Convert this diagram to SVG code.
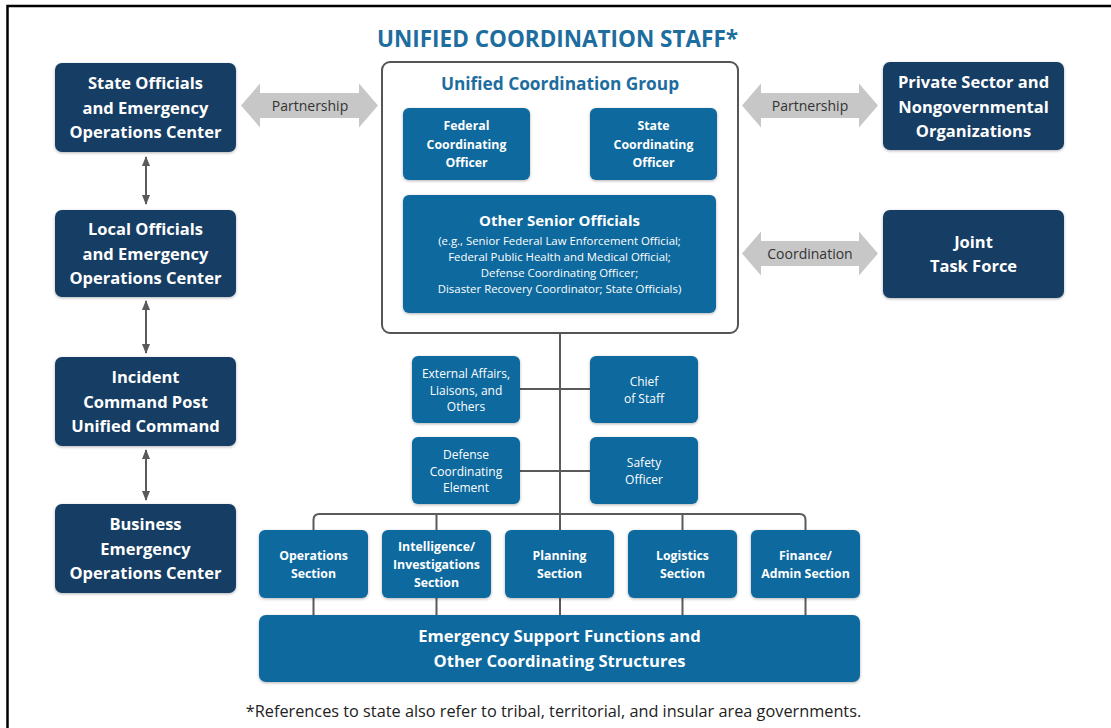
<svg xmlns="http://www.w3.org/2000/svg" width="1111" height="728" viewBox="0 0 1111 728">
  <defs>
    <filter id="soft" x="-10%" y="-10%" width="120%" height="130%">
      <feDropShadow dx="0" dy="1" stdDeviation="1.6" flood-color="#000" flood-opacity="0.3"/>
    </filter>
    <marker id="tip" viewBox="0 0 10 8" refX="9" refY="4" markerWidth="10" markerHeight="8" markerUnits="userSpaceOnUse" orient="auto-start-reverse">
      <path d="M0,0 L10,4 L0,8 Z" fill="#5a5a5a"/>
    </marker>
    <style>
      text { font-family: 'Open Sans', 'Liberation Sans', sans-serif; text-anchor: middle; }
      .navy { fill: #133c64; filter: url(#soft); }
      .blue { fill: #10699e; filter: url(#soft); }
      .navy-t { fill: #ffffff; font-weight: 700; font-size: 16.5px; }
      .blue-t { fill: #ffffff; font-weight: 700; font-size: 12.3px; }
      .staff-t { fill: #ffffff; font-weight: 400; font-size: 12px; }
      .sub-t { fill: #ffffff; font-weight: 400; font-size: 11.4px; }
      .line { fill: none; stroke: #5a5a5a; stroke-width: 2; }
      .gray-arrow { fill: #c7c7c7; }
      .arrow-t { fill: #333333; font-size: 14px; }
    </style>
  </defs>

  <rect width="1111" height="728" fill="#ffffff"/>
  <!-- page frame -->
  <rect x="7.5" y="6" width="1200" height="800" fill="none" stroke="#000" stroke-width="2.5"/>

  <text x="557.5" y="47" fill="#1d6d9e" font-weight="700" font-size="22.5px">UNIFIED COORDINATION STAFF*</text>

  <g id="connectors">
    <!-- vertical two-way arrows on the left column -->
    <line class="line" x1="146" y1="157" x2="146" y2="204" marker-start="url(#tip)" marker-end="url(#tip)"/>
    <line class="line" x1="146" y1="301" x2="146" y2="353" marker-start="url(#tip)" marker-end="url(#tip)"/>
    <line class="line" x1="146" y1="450" x2="146" y2="500" marker-start="url(#tip)" marker-end="url(#tip)"/>

    <!-- trunk from the coordination group -->
    <path class="line" d="M560 333 V615"/>
    <path class="line" d="M520 389 H590 M520 471 H590"/>
    <!-- section bus -->
    <path class="line" d="M313.5 530 V520 Q313.5 514 319.5 514 H799.5 Q805.5 514 805.5 520 V530 M436.5 514 V530 M682.5 514 V530"/>
    <!-- sections down to the support bar -->
    <path class="line" d="M313.5 598 V615 M436.5 598 V615 M682.5 598 V615 M805.5 598 V615"/>

    <!-- wide gray two-way arrows -->
    <g id="partnership-left">
      <polygon class="gray-arrow" points="241,105.5 260,83.5 260,93 359,93 359,83.5 378,105.5 359,127.5 359,118 260,118 260,127.5"/>
      <text class="arrow-t" x="310" y="110.5">Partnership</text>
    </g>
    <g id="partnership-right">
      <polygon class="gray-arrow" points="742,105.5 761,83.5 761,93 859,93 859,83.5 878,105.5 859,127.5 859,118 761,118 761,127.5"/>
      <text class="arrow-t" x="810" y="110.5">Partnership</text>
    </g>
    <g id="coordination">
      <polygon class="gray-arrow" points="742,253.5 761,231.5 761,241 859,241 859,231.5 878,253.5 859,275.5 859,266 761,266 761,275.5"/>
      <text class="arrow-t" x="810" y="258.5">Coordination</text>
    </g>
  </g>

  <!-- left column -->
  <g id="state-eoc">
    <rect class="navy" x="55" y="63" width="181" height="89" rx="7"/>
    <text class="navy-t" x="145.5" y="89">State Officials</text>
    <text class="navy-t" x="145.5" y="113.5">and Emergency</text>
    <text class="navy-t" x="145.5" y="138">Operations Center</text>
  </g>
  <g id="local-eoc">
    <rect class="navy" x="55" y="210" width="181" height="87" rx="7"/>
    <text class="navy-t" x="145.5" y="235">Local Officials</text>
    <text class="navy-t" x="145.5" y="259.5">and Emergency</text>
    <text class="navy-t" x="145.5" y="284">Operations Center</text>
  </g>
  <g id="icp">
    <rect class="navy" x="55" y="357" width="181" height="89" rx="7"/>
    <text class="navy-t" x="145.5" y="383">Incident</text>
    <text class="navy-t" x="145.5" y="407.5">Command Post</text>
    <text class="navy-t" x="145.5" y="432">Unified Command</text>
  </g>
  <g id="business-eoc">
    <rect class="navy" x="55" y="504" width="181" height="89" rx="7"/>
    <text class="navy-t" x="145.5" y="530">Business</text>
    <text class="navy-t" x="145.5" y="554.5">Emergency</text>
    <text class="navy-t" x="145.5" y="579">Operations Center</text>
  </g>

  <!-- right column -->
  <g id="private-sector">
    <rect class="navy" x="883" y="62" width="181" height="88" rx="7"/>
    <text class="navy-t" x="973.5" y="88">Private Sector and</text>
    <text class="navy-t" x="973.5" y="112.5">Nongovernmental</text>
    <text class="navy-t" x="973.5" y="137">Organizations</text>
  </g>
  <g id="jtf">
    <rect class="navy" x="883" y="210" width="181" height="88" rx="7"/>
    <text class="navy-t" x="973.5" y="247.5">Joint</text>
    <text class="navy-t" x="973.5" y="272">Task Force</text>
  </g>

  <!-- unified coordination group -->
  <g id="ucg">
    <rect x="382" y="62" width="356" height="271" rx="8" fill="#ffffff" stroke="#555" stroke-width="2"/>
    <text x="560" y="90" fill="#1d6d9e" font-weight="700" font-size="17.3px">Unified Coordination Group</text>
  </g>
  <g id="fco">
    <rect class="blue" x="403" y="108" width="127" height="72" rx="6"/>
    <text class="blue-t" x="466.5" y="130">Federal</text>
    <text class="blue-t" x="466.5" y="148.5">Coordinating</text>
    <text class="blue-t" x="466.5" y="167">Officer</text>
  </g>
  <g id="sco">
    <rect class="blue" x="590" y="108" width="127" height="72" rx="6"/>
    <text class="blue-t" x="653.5" y="130">State</text>
    <text class="blue-t" x="653.5" y="148.5">Coordinating</text>
    <text class="blue-t" x="653.5" y="167">Officer</text>
  </g>
  <g id="other-senior">
    <rect class="blue" x="403" y="195" width="313" height="118" rx="6"/>
    <text x="559.5" y="226" fill="#fff" font-weight="700" font-size="15px">Other Senior Officials</text>
    <text class="sub-t" x="559.5" y="245">(e.g., Senior Federal Law Enforcement Official;</text>
    <text class="sub-t" x="559.5" y="261">Federal Public Health and Medical Official;</text>
    <text class="sub-t" x="559.5" y="277">Defense Coordinating Officer;</text>
    <text class="sub-t" x="559.5" y="293">Disaster Recovery Coordinator; State Officials)</text>
  </g>

  <!-- command staff -->
  <g id="ext-affairs">
    <rect class="blue" x="412" y="356" width="108" height="67" rx="6"/>
    <text class="staff-t" x="466" y="378">External Affairs,</text>
    <text class="staff-t" x="466" y="394.5">Liaisons, and</text>
    <text class="staff-t" x="466" y="411">Others</text>
  </g>
  <g id="chief-of-staff">
    <rect class="blue" x="590" y="356" width="108" height="67" rx="6"/>
    <text class="staff-t" x="644" y="386">Chief</text>
    <text class="staff-t" x="644" y="402.5">of Staff</text>
  </g>
  <g id="dce">
    <rect class="blue" x="412" y="437" width="108" height="67" rx="6"/>
    <text class="staff-t" x="466" y="459">Defense</text>
    <text class="staff-t" x="466" y="475.5">Coordinating</text>
    <text class="staff-t" x="466" y="492">Element</text>
  </g>
  <g id="safety">
    <rect class="blue" x="590" y="437" width="108" height="67" rx="6"/>
    <text class="staff-t" x="644" y="467">Safety</text>
    <text class="staff-t" x="644" y="483.5">Officer</text>
  </g>

  <!-- sections -->
  <g id="ops">
    <rect class="blue" x="259" y="530" width="109" height="68" rx="6"/>
    <text class="blue-t" x="313.5" y="559.5">Operations</text>
    <text class="blue-t" x="313.5" y="577.5">Section</text>
  </g>
  <g id="intel">
    <rect class="blue" x="382" y="530" width="109" height="68" rx="6"/>
    <text class="blue-t" x="436.5" y="550.5">Intelligence/</text>
    <text class="blue-t" x="436.5" y="568.5">Investigations</text>
    <text class="blue-t" x="436.5" y="586.5">Section</text>
  </g>
  <g id="planning">
    <rect class="blue" x="505" y="530" width="109" height="68" rx="6"/>
    <text class="blue-t" x="559.5" y="559.5">Planning</text>
    <text class="blue-t" x="559.5" y="577.5">Section</text>
  </g>
  <g id="logistics">
    <rect class="blue" x="628" y="530" width="109" height="68" rx="6"/>
    <text class="blue-t" x="682.5" y="559.5">Logistics</text>
    <text class="blue-t" x="682.5" y="577.5">Section</text>
  </g>
  <g id="finance">
    <rect class="blue" x="751" y="530" width="109" height="68" rx="6"/>
    <text class="blue-t" x="805.5" y="559.5">Finance/</text>
    <text class="blue-t" x="805.5" y="577.5">Admin Section</text>
  </g>

  <g id="esf">
    <rect class="blue" x="259" y="615" width="601" height="67" rx="7"/>
    <text x="559.5" y="642" fill="#fff" font-weight="700" font-size="16.6px">Emergency Support Functions and</text>
    <text x="559.5" y="667" fill="#fff" font-weight="700" font-size="16.6px">Other Coordinating Structures</text>
  </g>

  <text x="553.5" y="717" fill="#222" font-size="16.3px">*References to state also refer to tribal, territorial, and insular area governments.</text>
</svg>
